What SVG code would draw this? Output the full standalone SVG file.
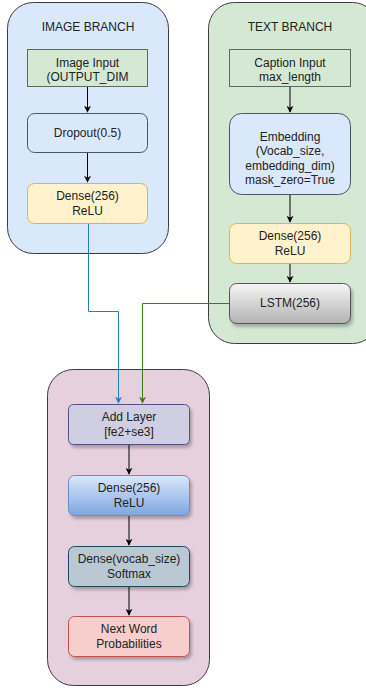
<svg xmlns="http://www.w3.org/2000/svg" width="366" height="691" viewBox="0 0 366 691">
  <style>
    text { font-family: "Liberation Sans", Arial, sans-serif; font-size: 12px; fill: #222; text-anchor: middle; dominant-baseline: central; }
    .group { stroke: #3c3c3c; stroke-width: 1; }
    .edge { fill: none; stroke: #000; stroke-width: 1; }
  </style>
  <defs>
    <marker id="arrowBlack" viewBox="0 0 10 10" refX="9" refY="5" markerWidth="7" markerHeight="7" orient="auto" markerUnits="userSpaceOnUse">
      <path d="M0,0 L10,5 L0,10 L3,5 Z" fill="#000"/>
    </marker>
    <marker id="arrowBlue" viewBox="0 0 10 10" refX="9" refY="5" markerWidth="7" markerHeight="7" orient="auto" markerUnits="userSpaceOnUse">
      <path d="M0,0 L10,5 L0,10 L3,5 Z" fill="#1f7fc0"/>
    </marker>
    <marker id="arrowGreen" viewBox="0 0 10 10" refX="9" refY="5" markerWidth="7" markerHeight="7" orient="auto" markerUnits="userSpaceOnUse">
      <path d="M0,0 L10,5 L0,10 L3,5 Z" fill="#3a7d10"/>
    </marker>
    <linearGradient id="gradGray" x1="0" y1="0" x2="0" y2="1">
      <stop offset="0" stop-color="#f5f5f5"/>
      <stop offset="1" stop-color="#b3b3b3"/>
    </linearGradient>
    <linearGradient id="gradBlue" x1="0" y1="0" x2="0" y2="1">
      <stop offset="0" stop-color="#dae8fc"/>
      <stop offset="1" stop-color="#7ea6e0"/>
    </linearGradient>
    <filter id="shadow" x="-10%" y="-20%" width="130%" height="160%">
      <feDropShadow dx="2" dy="3" stdDeviation="1.5" flood-color="#000" flood-opacity="0.25"/>
    </filter>
  </defs>

  <!-- Branch containers -->
  <g id="image-branch">
    <rect class="group" x="7.5" y="2.5" width="161" height="251" rx="26" fill="#dae8fc"/>
    <text x="88" y="27">IMAGE BRANCH</text>
  </g>
  <g id="text-branch">
    <rect class="group" x="208.5" y="2.5" width="170" height="341" rx="26" fill="#d5e8d4"/>
    <text x="290" y="27">TEXT BRANCH</text>
  </g>
  <g id="decoder">
    <rect class="group" x="47.5" y="369.5" width="162" height="316" rx="26" fill="#e6d0de"/>
  </g>

  <!-- Image branch layers -->
  <g id="image-input">
    <rect x="27.5" y="49.5" width="120" height="37" fill="#d5e8d4" stroke="#5a6b58"/>
    <text x="87.5" y="63">Image Input</text>
    <text x="87.5" y="77">(OUTPUT_DIM</text>
  </g>
  <g id="dropout">
    <rect x="27.5" y="113.5" width="120" height="39" rx="7" fill="#dae8fc" stroke="#4a5568"/>
    <text x="87.5" y="133">Dropout(0.5)</text>
  </g>
  <g id="image-dense">
    <rect x="27.5" y="183.5" width="120" height="40" rx="7" fill="#fff2cc" stroke="#d6b656"/>
    <text x="87.5" y="196">Dense(256)</text>
    <text x="87.5" y="211">ReLU</text>
  </g>

  <!-- Text branch layers -->
  <g id="caption-input">
    <rect x="229.5" y="49.5" width="121" height="37" fill="#d5e8d4" stroke="#5a6b58"/>
    <text x="290" y="63">Caption Input</text>
    <text x="290" y="77">max_length</text>
  </g>
  <g id="embedding">
    <rect x="229.5" y="113.5" width="121" height="81" rx="12" fill="#dae8fc" stroke="#4a5568"/>
    <text x="290" y="137">Embedding</text>
    <text x="290" y="151">(Vocab_size,</text>
    <text x="290" y="166">embedding_dim)</text>
    <text x="290" y="180">mask_zero=True</text>
  </g>
  <g id="text-dense">
    <rect x="229.5" y="223.5" width="121" height="40" rx="7" fill="#fff2cc" stroke="#d6b656"/>
    <text x="290" y="236">Dense(256)</text>
    <text x="290" y="251">ReLU</text>
  </g>
  <g id="lstm">
    <rect x="229.5" y="283.5" width="121" height="40" rx="7" fill="url(#gradGray)" stroke="#555" filter="url(#shadow)"/>
    <text x="290" y="303">LSTM(256)</text>
  </g>

  <!-- Decoder layers -->
  <g id="add-layer">
    <rect x="68.5" y="404.5" width="121" height="40" rx="5" fill="#d0cee2" stroke="#56517e" filter="url(#shadow)"/>
    <text x="129" y="417">Add Layer</text>
    <text x="129" y="432">[fe2+se3]</text>
  </g>
  <g id="decoder-dense">
    <rect x="68.5" y="475.5" width="121" height="40" rx="6" fill="url(#gradBlue)" stroke="#6c8ebf" filter="url(#shadow)"/>
    <text x="129" y="488">Dense(256)</text>
    <text x="129" y="503">ReLU</text>
  </g>
  <g id="output-dense">
    <rect x="68.5" y="546.5" width="121" height="40" rx="6" fill="#bac8d3" stroke="#23445d" filter="url(#shadow)"/>
    <text x="129" y="559">Dense(vocab_size)</text>
    <text x="129" y="574">Softmax</text>
  </g>
  <g id="next-word">
    <rect x="68.5" y="616.5" width="121" height="40" rx="6" fill="#f8cecc" stroke="#b85450" filter="url(#shadow)"/>
    <text x="129" y="629">Next Word</text>
    <text x="129" y="644">Probabilities</text>
  </g>

  <!-- Connectors -->
  <g id="connectors">
    <path class="edge" d="M87.5,87 V112" marker-end="url(#arrowBlack)"/>
    <path class="edge" d="M87.5,153 V182" marker-end="url(#arrowBlack)"/>
    <path class="edge" d="M290,87 V112" marker-end="url(#arrowBlack)"/>
    <path class="edge" d="M290,195 V222" marker-end="url(#arrowBlack)"/>
    <path class="edge" d="M290,264 V282" marker-end="url(#arrowBlack)"/>
    <path class="edge" d="M129,445 V474" marker-end="url(#arrowBlack)"/>
    <path class="edge" d="M129,516 V545" marker-end="url(#arrowBlack)"/>
    <path class="edge" d="M129,587 V615" marker-end="url(#arrowBlack)"/>
    <path class="edge" d="M88.5,224 V311.5 H118.5 V403" style="stroke:#1f7fc0" marker-end="url(#arrowBlue)"/>
    <path class="edge" d="M229,303.5 H142.5 V403" style="stroke:#3a7d10" marker-end="url(#arrowGreen)"/>
  </g>
</svg>
